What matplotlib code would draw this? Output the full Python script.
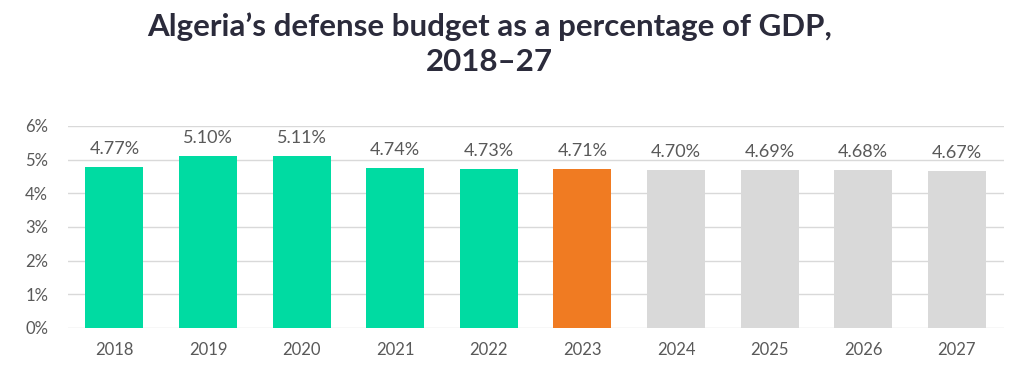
import matplotlib.pyplot as plt
from matplotlib.ticker import FuncFormatter

years = ['2018', '2019', '2020', '2021', '2022', '2023', '2024', '2025', '2026', '2027']
values = [4.77, 5.10, 5.11, 4.74, 4.73, 4.71, 4.70, 4.69, 4.68, 4.67]
colors = ['#00DBA2'] * 5 + ['#F07B22'] + ['#D9D9D9'] * 4

plt.rcParams['font.family'] = ['Lato', 'DejaVu Sans']

fig = plt.figure(figsize=(10.24, 3.90), dpi=100)
ax = fig.add_axes([0.066, 0.159, 0.914, 0.518])

x = range(len(years))
bars = ax.bar(x, values, width=0.62, color=colors, zorder=2)
for xi, v in zip(x, values):
    ax.text(xi, v + 0.3, f'{v:.2f}%', ha='center', va='bottom', fontsize=13, color='#595959')

ax.set_xlim(-0.5, len(years) - 0.5)
ax.set_ylim(0, 6)
ax.set_yticks(range(0, 7))
ax.yaxis.set_major_formatter(FuncFormatter(lambda v, p: f'{v:.0f}%'))
ax.set_xticks(list(x))
ax.set_xticklabels(years)
ax.tick_params(axis='both', length=0, labelsize=12, labelcolor='#595959')
ax.tick_params(axis='x', pad=10)
ax.tick_params(axis='y', pad=14)
ax.grid(axis='y', color='#D9D9D9', linewidth=1, zorder=0)
for s in ax.spines.values():
    s.set_visible(False)

fig.text(0.478, 0.968, 'Algeria\u2019s defense budget as a percentage of GDP,\n2018\u201327',
         ha='center', va='top', fontsize=22.5, fontweight='bold', color='#2B2B3B',
         linespacing=1.3)

fig.savefig('out.png', dpi=100)
